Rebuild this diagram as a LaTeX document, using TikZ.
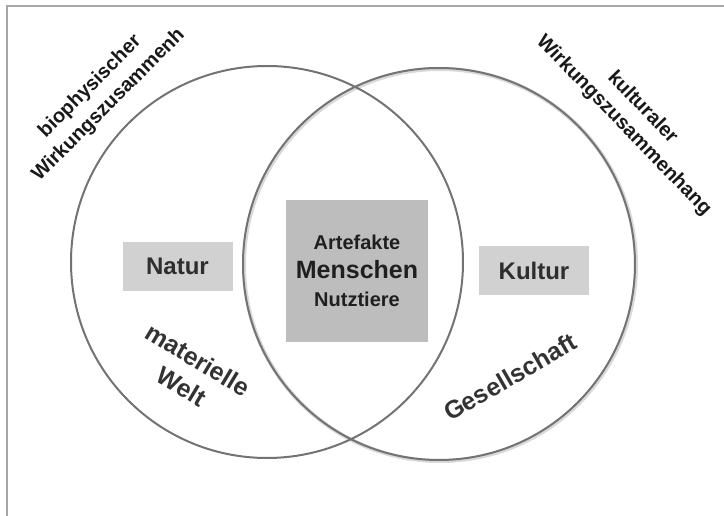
\documentclass[tikz,border=0pt]{standalone}
\usepackage{fontspec}
\setmainfont{Liberation Sans}

\begin{document}
\begin{tikzpicture}[x=1pt,y=-1pt,
                    ring/.style={draw=black!55,line width=2pt},
                    feld/.style={fill=black!18,inner sep=0pt,minimum width=110pt,minimum height=49pt,
                                 font=\fontsize{24}{28}\selectfont\bfseries,text=black!82},
                    kern/.style={fill=black!26,inner sep=0pt,minimum width=142pt,minimum height=142pt,
                                 align=center,font=\fontsize{20}{28.5}\selectfont\bfseries,text=black!88},
                    schild/.style={align=center,font=\fontsize{20}{26}\selectfont\bfseries,text=black!90},
                    welt/.style={align=center,font=\fontsize{25}{31}\selectfont\bfseries,text=black!80}]
  \useasboundingbox (0,0) rectangle (724,516);

  % Rahmen (nur oben und links sichtbar)
  \draw[black!35,line width=2pt] (6.5,516) -- (6.5,6.5) -- (724,6.5);

  % die beiden Kreise
  \draw[black!15,line width=4pt] (440,265) circle[radius=196pt];
  \draw[ring] (267,262) circle[radius=196pt];
  \draw[ring] (439,264) circle[radius=196pt];

  % Felder
  \node[feld] (natur)  at (177.5,266.5) {Natur};
  \node[feld] (kultur) at (534,270.5)   {Kultur};
  \node[kern] (mensch) at (357,271)
    {Artefakte\\{\fontsize{25}{28.5}\selectfont Menschen}\\Nutztiere};

  % Zusammenhaenge
  \node[schild,rotate=45]  (bio)  at (99.5,96) {biophysischer\\Wirkungszusammenh};
  \node[schild,rotate=-46] (kult) at (633,116.5) {kulturaler\\Wirkungszusammenhang};

  % Welten
  \node[welt,rotate=-31] (materie) at (190,373) {materielle\\Welt};
  \node[welt,rotate=30]  (gesell)  at (510,377) {Gesellschaft};
\end{tikzpicture}
\end{document}
